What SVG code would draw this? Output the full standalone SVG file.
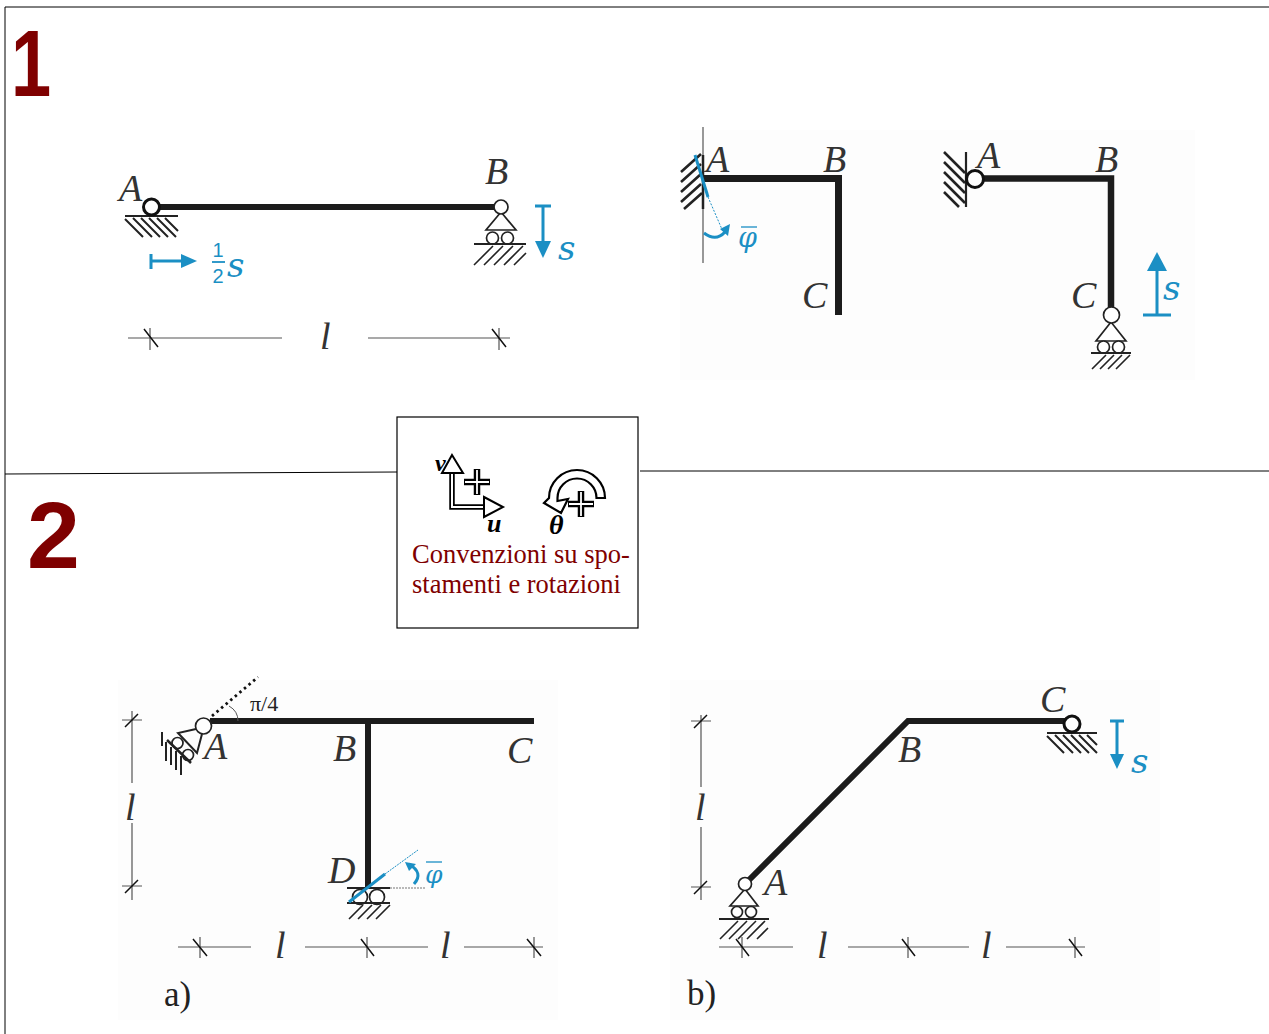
<svg xmlns="http://www.w3.org/2000/svg" width="1269" height="1034" viewBox="0 0 1269 1034">
<style>
.frame{stroke:#000;stroke-width:1;fill:none}
.beam{stroke:#1c1c1c;stroke-width:6;fill:none}
.thin{stroke:#222;stroke-width:1.6;fill:none}
.hatch{stroke:#222;stroke-width:2;fill:none}
.hinge{stroke:#111;stroke-width:3;fill:#fff}
.small{stroke:#222;stroke-width:1.700;fill:#fff}
.dim{stroke:#555;stroke-width:1.2;fill:none}
.slash{stroke:#111;stroke-width:1.5;fill:none}
.blue{stroke:#1b8fc4;stroke-width:3;fill:none}
.bluefill{fill:#1b8fc4}
.lab{font-family:"Liberation Serif",serif;font-style:italic;font-size:38px;fill:#333}
.dl{font-family:"Liberation Serif",serif;font-style:italic;font-size:38px;fill:#333}
.bl{font-family:"DejaVu Serif","Liberation Serif",serif;font-style:italic;font-size:34px;fill:#1b8fc4}
.num{font-family:"Liberation Sans",sans-serif;font-weight:bold;font-size:95px;fill:#7f0000}
.cap{font-family:"Liberation Serif",serif;font-size:26.500px;fill:#7f0000}
.sym{font-family:"Liberation Serif",serif;font-style:italic;font-weight:bold;fill:#000}
.tag{font-family:"Liberation Serif",serif;font-size:35px;fill:#222}
.frac{font-family:"Liberation Sans",sans-serif;font-size:20px;fill:#1b8fc4}
</style>
<rect width="1269" height="1034" fill="#fff"/>
<g id="panels" fill="#fdfdfd">
<rect x="680" y="130" width="515" height="250"/>
<rect x="118" y="680" width="440" height="340"/>
<rect x="670" y="680" width="490" height="340"/>
</g>
<g id="frame">
<path class="frame" d="M5 1034V7H1269M5 474L397 472M640 471H1269"/>
<text class="num" transform="translate(11 96) scale(.76 1)">1</text>
<text class="num" x="27" y="568">2</text>
</g>
<g id="connectors">
<path class="beam" d="M158 207H496"/>
<path class="beam" d="M703 178.500H838.500V315" style="stroke-width:7"/>
<path class="beam" d="M980 178.500H1111V310" style="stroke-width:6.500"/>
<path class="beam" d="M210 721H534M368 721V888"/>
<path class="beam" d="M745 884L908 721H1066"/>
</g>
<g id="beam1-support-A">
<path class="thin" d="M125 216H178" style="stroke-width:2"/>
<path class="hatch" d="M125 219l18 18M133 218l19 19M141 218l19 19M149 218l19 19M157 218l19 19M165 218l13 13"/>
<circle class="hinge" cx="151.500" cy="207" r="8"/>
<text class="lab" x="119" y="201">A</text>
</g>
<g id="beam1-support-B">
<path class="small" d="M501 212L486 230H516Z"/>
<circle class="small" cx="501" cy="207" r="7"/>
<circle class="small" cx="492.500" cy="238" r="6"/>
<circle class="small" cx="507.500" cy="238" r="6"/>
<path class="thin" d="M474 244H526" style="stroke-width:2.200"/>
<path class="thin" d="M474 265l19-19M484 265l19-19M494 265l19-19M504 265l19-19M514 265l12-12"/>
<text class="lab" x="485" y="184">B</text>
</g>
<g id="beam1-loads">
<path class="blue" d="M535 206H551M543 206V243"/>
<path class="bluefill" d="M535 241H551L543 258Z"/>
<text class="bl" x="558" y="260">s</text>
<path class="blue" d="M151 254V269M151 261H182"/>
<path class="bluefill" d="M181 254L197 261L181 268Z"/>
<text class="frac" x="218" y="257" text-anchor="middle">1</text>
<path class="blue" d="M212 262H225" style="stroke-width:1.800"/>
<text class="frac" x="218" y="283" text-anchor="middle">2</text>
<text class="bl" x="227" y="277">s</text>
</g>
<g id="beam1-dim">
<path class="dim" d="M128 338H282M368 338H510M150 328V350M499 328V350"/>
<path class="slash" d="M144 329L158 347M492 329L506 347"/>
<text class="dl" x="320" y="349">l</text>
</g>
<g id="frame2-fixed-A">
<path class="dim" d="M703 127V263"/>
<path class="thin" d="M703 155V209" style="stroke-width:2.500"/>
<path class="hatch" d="M681 172l20-18M681 182l20-18M681 192l20-18M681 202l20-18M684 209l18-16" style="stroke-width:2.600"/>
<path class="blue" d="M695 155L708 197"/>
<path d="M708 197L724 234" stroke="#1b8fc4" stroke-width="1" stroke-dasharray="2 1.500" fill="none"/>
<path class="blue" d="M704 233Q716 242 725 232"/>
<path class="bluefill" d="M720 229L730 224L728 236Z"/>
<text class="bl" x="738" y="247" style="font-size:27px">φ</text>
<path class="blue" d="M741 227H757" style="stroke-width:1.300"/>
<text class="lab" x="706" y="172">A</text>
<text class="lab" x="823" y="172">B</text>
<text class="lab" x="802" y="308">C</text>
</g>
<g id="frame3-hinge-A">
<path class="thin" d="M966 152V207" style="stroke-width:2.200"/>
<path class="hatch" d="M944 152l21 21M944 162l21 21M944 172l21 21M944 182l21 21M944 192l15 15" style="stroke-width:2.600"/>
<circle class="hinge" cx="975" cy="179" r="8.500"/>
<text class="lab" x="977" y="168">A</text>
<text class="lab" x="1095" y="172">B</text>
</g>
<g id="frame3-support-C">
<path class="small" d="M1111 322L1096 341H1126Z"/>
<circle class="small" cx="1111.500" cy="315" r="8"/>
<circle class="small" cx="1103.500" cy="347" r="6"/>
<circle class="small" cx="1118.500" cy="347" r="6"/>
<path class="thin" d="M1091 353H1131" style="stroke-width:2.200"/>
<path class="thin" d="M1092 369l14-14M1100 369l14-14M1108 369l14-14M1116 369l14-14"/>
<text class="lab" x="1071" y="308">C</text>
<path class="blue" d="M1143 315H1171M1157 315V268"/>
<path class="bluefill" d="M1147 271H1167L1157 252Z"/>
<text class="bl" x="1163" y="300">s</text>
</g>
<g id="legend">
<rect x="397" y="417" width="241" height="211" fill="#fff" stroke="#000" stroke-width="1.200"/>
<path d="M452 472V507H486" fill="none" stroke="#000" stroke-width="5.500"/>
<path d="M452 472V507H486" fill="none" stroke="#fff" stroke-width="2"/>
<path d="M452 455L463 473H442Z" fill="#fff" stroke="#000" stroke-width="2"/>
<path d="M484 497L503 507L484 517Z" fill="#fff" stroke="#000" stroke-width="2"/>
<path d="M477 469V495M464 482H490" fill="none" stroke="#000" stroke-width="6.500"/>
<path d="M477 470V494M465 482H489" fill="none" stroke="#fff" stroke-width="1.800"/>
<path d="M605 498A28 28 0 0 0 549 498L544 503L561 513L568 499L557.500 501V498A19.500 19.500 0 0 1 596.500 498Z" fill="#fff" stroke="#000" stroke-width="2.200"/>
<path d="M581 491V517M568 504H594" fill="none" stroke="#000" stroke-width="6.500"/>
<path d="M581 492V516M569 504H593" fill="none" stroke="#fff" stroke-width="1.800"/>
<text class="sym" x="435" y="471" font-size="24">v</text>
<text class="sym" x="487" y="532" font-size="26">u</text>
<text class="sym" x="549" y="534" font-size="28">θ</text>
<text class="cap" x="412" y="563">Convenzioni su spo-</text>
<text class="cap" x="412" y="593">stamenti e rotazioni</text>
</g>
<g id="frame-a-support-A">
<path d="M212 716L258 677" fill="none" stroke="#111" stroke-width="2.800" stroke-dasharray="2.500 3.500"/>
<path class="dim" d="M238 721Q238 711 229 706" style="stroke-width:1"/>
<text x="250" y="711" style="font-family:'Liberation Serif',serif;font-size:22px;fill:#222">π/4</text>
<path class="thin" d="M196 729L178 733L197 753L202 734" style="stroke-width:2"/>
<circle class="small" cx="177.500" cy="743" r="5.500"/>
<circle class="small" cx="188" cy="755" r="5.500"/>
<circle class="small" cx="203.500" cy="726" r="8"/>
<path class="thin" d="M167 740L191 763" style="stroke-width:2.500"/>
<path class="thin" d="M162 732V746M166 742V761M171 747V765M176 751V770M181 756V775" style="stroke-width:2"/>
<text class="lab" x="204" y="759">A</text>
</g>
<g id="frame-a-labels">
<text class="lab" x="333" y="761">B</text>
<text class="lab" x="507" y="763">C</text>
<text class="lab" x="328" y="883">D</text>
</g>
<g id="frame-a-support-D">
<path class="thin" d="M347 888H390" style="stroke-width:2.200"/>
<circle class="small" cx="360" cy="897" r="7.500"/>
<circle class="small" cx="377" cy="897" r="7.500"/>
<path class="thin" d="M347 903H390" style="stroke-width:2.200"/>
<path class="thin" d="M349 919l14-14M358 919l14-14M367 919l14-14M376 919l14-14"/>
<path class="blue" d="M349 902L385 874"/>
<path d="M385 874L418 850" stroke="#1b8fc4" stroke-width="1" stroke-dasharray="2 1" fill="none"/>
<path d="M390 888H425" stroke="#777" stroke-width="1.200" stroke-dasharray="2 1" fill="none"/>
<path class="blue" d="M409 864Q424 873 414 884"/>
<path class="bluefill" d="M405 862L416 864L409 871Z"/>
<text class="bl" x="425" y="883" style="font-size:25px">φ</text>
<path class="blue" d="M426 862H442" style="stroke-width:1.300"/>
</g>
<g id="frame-a-dim">
<path class="dim" d="M132 711V783M132 823V900M122 720H142M122 886H142M178 947H251M305 947H428M464 947H543M200 937V958M367 937V958M534 937V958"/>
<path class="slash" d="M125 727L138 714M125 893L138 880M193 939L207 956M361 939L374 956M527 939L541 956"/>
<text class="dl" x="125" y="820">l</text>
<text class="dl" x="275" y="958">l</text>
<text class="dl" x="440" y="958">l</text>
<text class="tag" x="164" y="1006">a)</text>
</g>
<g id="frame-b-support-C">
<path class="thin" d="M1047 733H1097" style="stroke-width:2"/>
<path class="hatch" d="M1047 736l17 17M1055 735l18 18M1063 735l18 18M1071 735l18 18M1079 735l18 18M1087 735l10 10"/>
<circle class="hinge" cx="1072" cy="724" r="8"/>
<text class="lab" x="1040" y="712">C</text>
<path class="blue" d="M1110 721H1124M1117 721V755"/>
<path class="bluefill" d="M1110 754H1124L1117 769Z"/>
<text class="bl" x="1131" y="773">s</text>
</g>
<g id="frame-b-support-A">
<path class="small" d="M745 889L730 906H758Z"/>
<circle class="small" cx="745" cy="884" r="6.500"/>
<circle class="small" cx="737" cy="912" r="5.500"/>
<circle class="small" cx="751" cy="912" r="5.500"/>
<path class="thin" d="M719 919H769" style="stroke-width:2.200"/>
<path class="thin" d="M720 939l18-18M729 939l18-18M738 939l18-18M747 939l18-18M757 939l11-11"/>
<text class="lab" x="764" y="895">A</text>
<text class="lab" x="898" y="762">B</text>
</g>
<g id="frame-b-dim">
<path class="dim" d="M701 715V787M701 827V900M691 721H711M691 887H711M719 947H793M848 947H969M1006 947H1085M742 937V958M908 937V958M1075 937V958"/>
<path class="slash" d="M694 728L707 715M694 894L707 881M736 939L749 956M902 939L915 956M1069 939L1082 956"/>
<text class="dl" x="695" y="820">l</text>
<text class="dl" x="817" y="958">l</text>
<text class="dl" x="981" y="958">l</text>
<text class="tag" x="687" y="1005">b)</text>
</g>
</svg>
